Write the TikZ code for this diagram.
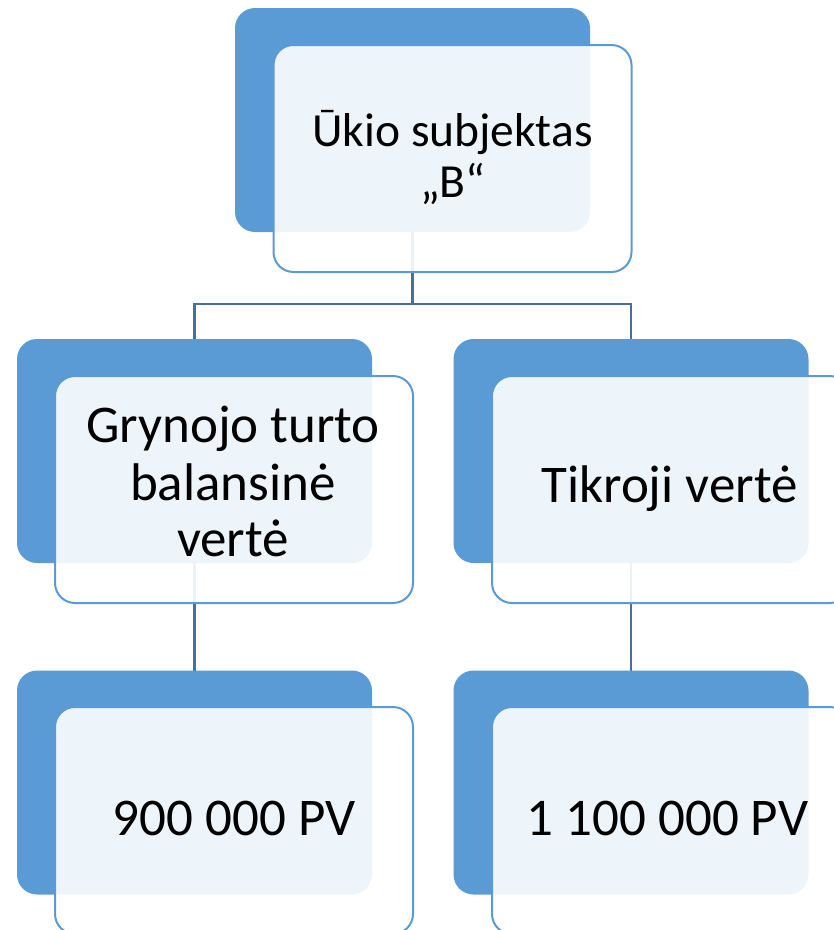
\documentclass[tikz,border=0pt]{standalone}
\usepackage{fontspec}
\setmainfont{Carlito}
\definecolor{darkfill}{HTML}{5B9BD5}
\definecolor{frontline}{HTML}{5B9BD5}
\definecolor{connline}{HTML}{41719C}
\tikzset{
  backbox/.style={rectangle, rounded corners=20pt, fill=darkfill, draw=none,
    minimum width=355pt, minimum height=224pt, inner sep=0pt},
  frontbox/.style={rectangle, rounded corners=20pt, fill=white, fill opacity=0.9,
    draw=frontline, draw opacity=1, line width=2pt,
    minimum width=358pt, minimum height=227pt, inner sep=0pt},
  conn/.style={draw=connline, line width=2.2pt},
  bigtxt/.style={anchor=base, inner sep=0pt, text=black, font=\fontsize{53}{58}\selectfont},
  toptxt/.style={anchor=base, inner sep=0pt, text=black, font=\fontsize{47.5}{52}\selectfont}
}
\begin{document}
\begin{tikzpicture}[x=1pt, y=-1pt]
\useasboundingbox (0,0) rectangle (834,930);
\clip (0,0) rectangle (834,930);
% back boxes positions (coordinates only)
\coordinate (c0) at (412.5,120);
\coordinate (c1) at (194.5,451);
\coordinate (c2) at (631,451);
\coordinate (c3) at (194.5,782.5);
\coordinate (c4) at (631,782.5);
\coordinate (bus) at (412.5,304);
% connectors (behind)
\draw[conn] (c0) -- (bus) -| (c1);
\draw[conn] (bus) -| (c2);
\draw[conn] (c1) -- (c3);
\draw[conn] (c2) -- (c4);
% back boxes
\node[backbox] (d0) at (c0) {};
\node[backbox] (d1) at (c1) {};
\node[backbox] (d2) at (c2) {};
\node[backbox] (d3) at (c3) {};
\node[backbox] (d4) at (c4) {};
% front boxes
\node[frontbox] (f0) at (452.5,158.5) {};
\node[frontbox] (f1) at (234,489.5) {};
\node[frontbox] (f2) at (671,489.5) {};
\node[frontbox] (f3) at (234,820.5) {};
\node[frontbox] (f4) at (671,820.5) {};
% texts
\node[toptxt] (t0a) at (452.5,146) {Ūkio subjektas};
\node[toptxt] (t0b) at (452.5,197) {„B“};
\node[bigtxt] (t1a) at (233,442) {Grynojo turto};
\node[bigtxt] (t1b) at (233,500) {balansinė};
\node[bigtxt] (t1c) at (233,556) {vertė};
\node[bigtxt] (t2) at (669.5,502) {Tikroji vertė};
\node[bigtxt] (t3) at (234,835) {900 000 PV};
\node[bigtxt] (t4) at (667.5,835) {1 100 000 PV};
\end{tikzpicture}
\end{document}
